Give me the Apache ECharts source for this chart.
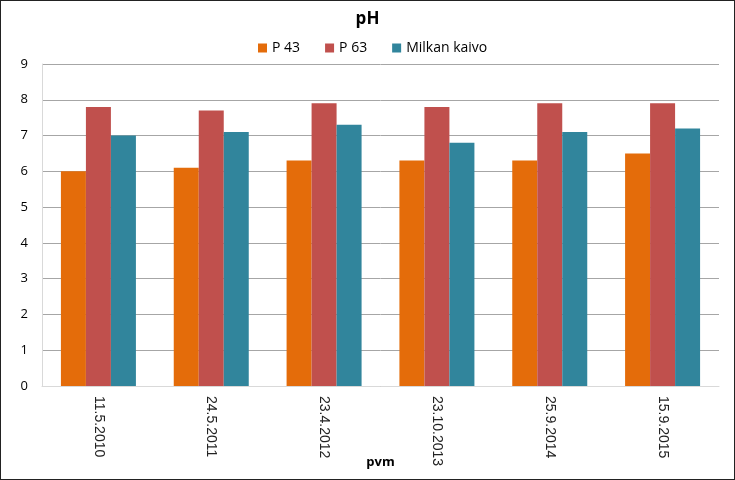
<!DOCTYPE html>
<html><head><meta charset="utf-8">
<script src="https://cdn.jsdelivr.net/npm/echarts@6/dist/echarts.min.js"></script>
<style>html,body{margin:0;padding:0;background:#fff}#c{width:735px;height:480px;box-sizing:border-box;border:1px solid #222}</style>
</head><body><div id="c"></div>
<script>
const categories = ['11.5.2010','24.5.2011','23.4.2012','23.10.2013','25.9.2014','15.9.2015'];
const p43 = [6.0, 6.1, 6.3, 6.3, 6.3, 6.5];
const p63 = [7.8, 7.7, 7.9, 7.8, 7.9, 7.9];
const milkan = [7.0, 7.1, 7.3, 6.8, 7.1, 7.2];
const seriesNames = ['P 43', 'P 63', 'Milkan kaivo'];
const chart = echarts.init(document.getElementById('c'));
const font = '"Open Sans", "Noto Sans", sans-serif';
chart.setOption({
  animation: false,
  title: {text: 'pH', left: 'center', top: 5, textStyle: {fontFamily: font, fontSize: 17, fontWeight: 'bold', color: '#000'}},
  legend: {top: 35, left: 252, itemWidth: 9, itemHeight: 9, itemGap: 25, icon: 'rect',
    textStyle: {fontFamily: font, fontSize: 14, color: '#000'}},
  grid: {left: 41, right: 15, top: 63, bottom: 93, outerBoundsMode: 'none', containLabel: false},
  xAxis: {type: 'category', data: categories, name: 'pvm', nameLocation: 'middle', nameGap: 70, nameMoveOverlap: false,
    nameTextStyle: {fontFamily: font, fontWeight: 'bold', fontSize: 13, color: '#000'},
    axisLine: {lineStyle: {color: '#d9d9d9'}}, axisTick: {show: false},
    axisLabel: {rotate: -90, fontFamily: '"Liberation Sans", Arial, sans-serif', fontSize: 14, color: '#222', margin: 10}},
  yAxis: {type: 'value', min: 0, max: 9, interval: 1,
    axisLine: {show: true, lineStyle: {color: '#d9d9d9'}}, axisTick: {show: false},
    splitLine: {lineStyle: {color: '#a6a6a6'}},
    axisLabel: {fontFamily: font, fontSize: 13, color: '#000', margin: 14}},
  series: [
    {name: seriesNames[0], type: 'bar', data: p43, itemStyle: {color: '#E46C0A'}, barWidth: 25, barGap: '0%'},
    {name: seriesNames[1], type: 'bar', data: p63, itemStyle: {color: '#C0504D'}, barWidth: 25, barGap: '0%'},
    {name: seriesNames[2], type: 'bar', data: milkan, itemStyle: {color: '#31859C'}, barWidth: 25, barGap: '0%'}
  ]
});
</script></body></html>
